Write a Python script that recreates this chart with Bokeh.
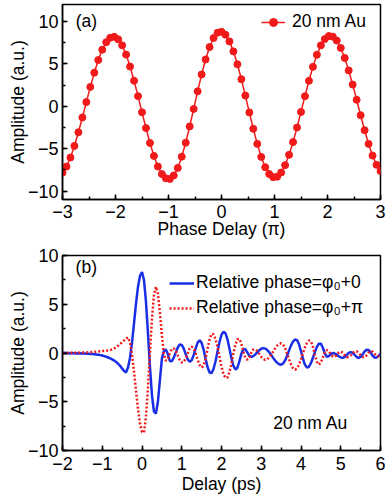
from bokeh.plotting import figure
from bokeh.layouts import column
from bokeh.models import Range1d, SingleIntervalTicker, Legend, LegendItem, Label
from bokeh.embed import file_html
from bokeh.resources import INLINE

# ---------------- data: panel (a) ----------------
phase_delay = [
    -3.0, -2.925, -2.85, -2.775, -2.7, -2.625, -2.55, -2.475, -2.4, -2.325,
    -2.25, -2.175, -2.1, -2.025, -1.95, -1.875, -1.8, -1.725, -1.65, -1.575,
    -1.5, -1.425, -1.35, -1.275, -1.2, -1.125, -1.05, -0.975, -0.9, -0.825,
    -0.75, -0.675, -0.6, -0.525, -0.45, -0.375, -0.3, -0.225, -0.15, -0.075,
    0.0, 0.075, 0.15, 0.225, 0.3, 0.375, 0.45, 0.525, 0.6, 0.675,
    0.75, 0.825, 0.9, 0.975, 1.05, 1.125, 1.2, 1.275, 1.35, 1.425,
    1.5, 1.575, 1.65, 1.725, 1.8, 1.875, 1.95, 2.025, 2.1, 2.175,
    2.25, 2.325, 2.4, 2.475, 2.55, 2.625, 2.7, 2.775, 2.85, 2.925,
    3.0,
]
amplitude_au = [
    -7.84, -7.12, -6.05, -4.68, -3.07, -1.33, 0.49, 2.28, 3.96, 5.45,
    6.67, 7.55, 8.07, 8.19, 7.89, 7.18, 6.09, 4.68, 3.01, 1.19,
    -0.71, -2.58, -4.33, -5.86, -7.11, -8.00, -8.50, -8.57, -8.16, -7.27,
    -5.95, -4.30, -2.38, -0.32, 1.76, 3.75, 5.52, 6.98, 8.05, 8.67,
    8.78, 8.43, 7.65, 6.47, 4.95, 3.19, 1.26, -0.73, -2.66, -4.44,
    -5.98, -7.19, -7.99, -8.37, -8.31, -7.82, -6.95, -5.73, -4.23, -2.51,
    -0.67, 1.19, 3.00, 4.65, 6.07, 7.18, 7.93, 8.28, 8.21, 7.74,
    6.88, 5.69, 4.23, 2.55, 0.76, -1.06, -2.83, -4.44, -5.82, -6.91,
    -7.64,
]

# ---------------- data: panel (b) ----------------
delay_ps = [
    -2.0, -1.95, -1.9, -1.85, -1.8, -1.75, -1.7, -1.65, -1.6, -1.55,
    -1.5, -1.45, -1.4, -1.35, -1.3, -1.25, -1.2, -1.15, -1.1, -1.05,
    -1.0, -0.95, -0.9, -0.85, -0.8, -0.75, -0.7, -0.65, -0.6, -0.55,
    -0.5, -0.45, -0.4, -0.35, -0.3, -0.25, -0.2, -0.15, -0.1, -0.05,
    0.0, 0.05, 0.1, 0.15, 0.2, 0.25, 0.3, 0.35, 0.4, 0.45,
    0.5, 0.55, 0.6, 0.65, 0.7, 0.75, 0.8, 0.85, 0.9, 0.95,
    1.0, 1.05, 1.1, 1.15, 1.2, 1.25, 1.3, 1.35, 1.4, 1.45,
    1.5, 1.55, 1.6, 1.65, 1.7, 1.75, 1.8, 1.85, 1.9, 1.95,
    2.0, 2.05, 2.1, 2.15, 2.2, 2.25, 2.3, 2.35, 2.4, 2.45,
    2.5, 2.55, 2.6, 2.65, 2.7, 2.75, 2.8, 2.85, 2.9, 2.95,
    3.0, 3.05, 3.1, 3.15, 3.2, 3.25, 3.3, 3.35, 3.4, 3.45,
    3.5, 3.55, 3.6, 3.65, 3.7, 3.75, 3.8, 3.85, 3.9, 3.95,
    4.0, 4.05, 4.1, 4.15, 4.2, 4.25, 4.3, 4.35, 4.4, 4.45,
    4.5, 4.55, 4.6, 4.65, 4.7, 4.75, 4.8, 4.85, 4.9, 4.95,
    5.0, 5.05, 5.1, 5.15, 5.2, 5.25, 5.3, 5.35, 5.4, 5.45,
    5.5, 5.55, 5.6, 5.65, 5.7, 5.75, 5.8, 5.85, 5.9, 5.95,
    6.0,
]
amp_phase_0 = [
    0.0, 0.02, -0.03, 0.0, -0.05, 0.0, -0.04, -0.02, -0.05, -0.03,
    -0.06, -0.05, -0.08, -0.08, -0.10, -0.10, -0.12, -0.15, -0.18, -0.22,
    -0.26, -0.32, -0.38, -0.46, -0.55, -0.66, -0.78, -0.93, -1.10, -1.32,
    -1.58, -1.85, -1.99, -1.46, -0.45, 1.10, 3.10, 5.10, 6.80, 7.92,
    8.30, 7.49, 5.24, 2.04, -1.39, -4.29, -6.00, -6.21, -5.00, -2.80,
    -0.60, 0.20, 0.35, -0.11, -0.82, -0.84, -0.48, 0.06, 0.57, 0.87,
    0.83, 0.45, -0.12, -0.64, -0.89, -0.75, -0.22, 0.48, 1.07, 1.30,
    1.04, 0.34, -0.59, -1.46, -2.00, -2.06, -1.64, -0.84, 0.15, 1.13,
    1.86, 2.19, 2.03, 1.40, 0.45, -0.54, -1.33, -1.69, -1.51, -0.86,
    -0.09, 0.40, 0.39, 0.06, -0.29, -0.40, -0.32, -0.15, 0.07, 0.29,
    0.44, 0.50, 0.45, 0.30, 0.08, -0.20, -0.50, -0.78, -1.00, -1.15,
    -1.20, -1.08, -0.76, -0.28, 0.27, 0.78, 1.18, 1.38, 1.32, 0.89,
    0.18, -0.59, -1.21, -1.49, -1.41, -1.04, -0.49, 0.11, 0.63, 0.95,
    0.96, 0.54, -0.05, -0.39, -0.32, -0.11, 0.00, -0.05, -0.17, -0.33,
    -0.45, -0.50, -0.41, -0.20, 0.01, 0.10, 0.01, -0.20, -0.41, -0.50,
    -0.40, -0.14, 0.15, 0.33, 0.30, 0.06, -0.27, -0.48, -0.46, -0.30,
    -0.10,
]
amp_phase_pi = [
    0.0, -0.02, 0.03, 0.0, 0.04, 0.0, 0.03, 0.02, 0.04, 0.03,
    0.05, 0.05, 0.06, 0.07, 0.08, 0.10, 0.12, 0.14, 0.16, 0.18,
    0.20, 0.22, 0.24, 0.27, 0.30, 0.38, 0.48, 0.60, 0.75, 0.92,
    1.10, 1.30, 1.50, 1.59, 1.04, -0.20, -1.94, -3.89, -5.75, -7.22,
    -8.10, -8.15, -6.50, -3.57, 0.04, 3.47, 5.92, 6.80, 6.07, 4.17,
    1.83, -0.07, -0.80, -0.57, -0.04, 0.41, 0.47, 0.21, -0.25, -0.71,
    -0.97, -0.93, -0.55, -0.01, 0.47, 0.65, 0.46, -0.04, -0.68, -1.23,
    -1.49, -1.30, -0.56, 0.46, 1.41, 1.95, 1.92, 1.43, 0.60, -0.40,
    -1.39, -2.16, -2.56, -2.51, -1.96, -1.06, -0.04, 0.86, 1.41, 1.45,
    0.95, 0.15, -0.51, -0.69, -0.43, 0.04, 0.37, 0.37, 0.19, -0.09,
    -0.39, -0.61, -0.70, -0.64, -0.45, -0.18, 0.15, 0.48, 0.75, 0.94,
    1.00, 0.87, 0.49, -0.05, -0.65, -1.19, -1.57, -1.70, -1.57, -1.19,
    -0.64, -0.01, 0.59, 1.04, 1.28, 1.20, 0.63, -0.21, -0.92, -1.20,
    -0.98, -0.45, 0.08, 0.30, 0.18, -0.11, -0.35, -0.38, -0.20, 0.04,
    0.15, 0.03, -0.23, -0.43, -0.42, -0.25, -0.01, 0.17, 0.18, 0.02,
    -0.23, -0.41, -0.43, -0.24, 0.04, 0.20, 0.13, -0.10, -0.31, -0.34,
    -0.15,
]

label_a = "20 nm Au"
label_b0 = "Relative phase=\u03c6\u2080+0"
label_bpi = "Relative phase=\u03c6\u2080+\u03c0"

FONT = "Liberation Sans"
TICK_FS = "18px"
FS = "17.5px"
RED = "#f01a1a"
BLUE = "#1a2ee6"


def style(p, xint, yint):
    p.grid.visible = False
    p.outline_line_color = "black"
    p.outline_line_width = 1.5
    p.outline_line_alpha = 1.0
    p.background_fill_color = "white"
    p.border_fill_color = "white"
    p.xaxis.ticker = SingleIntervalTicker(interval=xint, num_minor_ticks=2)
    p.yaxis.ticker = SingleIntervalTicker(interval=yint, num_minor_ticks=2)
    for ax in (p.xaxis[0], p.yaxis[0]):
        ax.axis_line_width = 1.5
        ax.axis_line_color = "black"
        ax.major_tick_line_width = 1.5
        ax.minor_tick_line_width = 1.5
        ax.major_tick_line_color = "black"
        ax.minor_tick_line_color = "black"
        ax.major_tick_in = 5
        ax.major_tick_out = 0
        ax.minor_tick_in = 3
        ax.minor_tick_out = 0
        ax.major_label_text_font = FONT
        ax.major_label_text_font_size = TICK_FS
        ax.major_label_text_color = "black"
        ax.axis_label_text_font = FONT
        ax.axis_label_text_font_size = FS
        ax.axis_label_text_font_style = "normal"
        ax.axis_label_text_color = "black"
    p.yaxis.major_label_standoff = 4
    p.yaxis.axis_label_standoff = -3


def make_legend(items, glyph_w, standoff, margin, label_w):
    return Legend(
        items=items, location="top_right", orientation="vertical",
        label_text_font=FONT, label_text_font_size=FS, label_text_color="black",
        glyph_width=glyph_w, glyph_height=20, label_height=20, label_standoff=standoff,
        label_width=label_w, padding=0, spacing=4, margin=margin,
        border_line_alpha=0, background_fill_alpha=0,
    )


# ---------------- panel (a) ----------------
pa = figure(width=389, height=242, x_range=Range1d(-3, 3), y_range=Range1d(-11, 12),
            output_backend="svg", toolbar_location=None,
            min_border_left=62, min_border_right=9, min_border_top=4, min_border_bottom=43)
style(pa, 1, 5)
pa.xaxis.axis_label = "Phase Delay (\u03c0)"
pa.yaxis.axis_label = "Amplitude (a.u.)"
pa.xaxis.major_label_standoff = 5
pa.xaxis.axis_label_standoff = -2

la = pa.line(phase_delay, amplitude_au, line_color=RED, line_width=1.5)
sa = pa.scatter(phase_delay, amplitude_au, size=7, fill_color=RED, line_color=RED)
pa.add_layout(make_legend([LegendItem(label=label_a, renderers=[la, sa])], 24, 7, 7, 81))
pa.add_layout(Label(x=-2.75, y=10, text="(a)", text_baseline="middle",
                    text_font=FONT, text_font_size=FS, text_color="black"))

# ---------------- panel (b) ----------------
pb = figure(width=389, height=255, x_range=Range1d(-2, 6), y_range=Range1d(-10, 10),
            output_backend="svg", toolbar_location=None,
            min_border_left=62, min_border_right=9, min_border_top=13, min_border_bottom=47)
style(pb, 1, 5)
pb.xaxis.axis_label = "Delay (ps)"
pb.yaxis.axis_label = "Amplitude (a.u.)"
pb.xaxis.major_label_standoff = 6
pb.xaxis.axis_label_standoff = 1

lb0 = pb.line(delay_ps, amp_phase_0, line_color=BLUE, line_width=2.5)
lbpi = pb.line(delay_ps, amp_phase_pi, line_color=RED, line_width=2.5, line_dash="2 2")
pb.add_layout(make_legend([LegendItem(label=label_b0, renderers=[lb0]),
                           LegendItem(label=label_bpi, renderers=[lbpi])], 25, 2, 17, 20))
pb.add_layout(Label(x=-1.67, y=8.8, text="(b)", text_baseline="middle",
                    text_font=FONT, text_font_size=FS, text_color="black"))
pb.add_layout(Label(x=3.3, y=-7.2, text="20 nm Au", text_baseline="middle",
                    text_font=FONT, text_font_size=FS, text_color="black"))

layout = column(pa, pb, spacing=0)
open("out.html", "w").write(file_html(layout, INLINE))
